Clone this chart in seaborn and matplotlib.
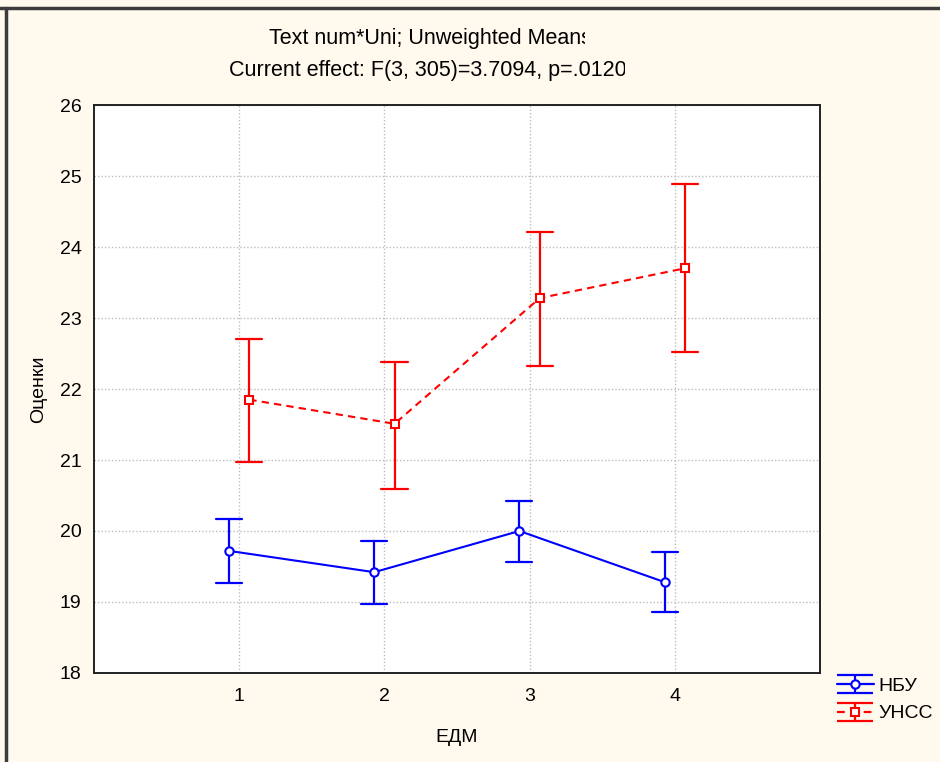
import numpy as np
import pandas as pd
import matplotlib
matplotlib.use("Agg")
import matplotlib.pyplot as plt
from matplotlib.path import Path
from matplotlib.lines import Line2D
from matplotlib.transforms import Bbox, TransformedBbox
import seaborn as sns

# Unweighted means with 95% confidence limits, by ЕДМ level and university
edm_levels = ["1", "2", "3", "4"]
groups = ["НБУ", "УНСС"]
nbu_mean = [19.72, 19.42, 20.00, 19.28]
nbu_low = [19.27, 18.97, 19.56, 18.86]
nbu_high = [20.17, 19.86, 20.42, 19.70]
unss_mean = [21.85, 21.51, 23.28, 23.70]
unss_low = [20.97, 20.59, 22.32, 22.52]
unss_high = [22.71, 22.38, 24.21, 24.89]

rows = []
for grp, lo, mid, hi in [("НБУ", nbu_low, nbu_mean, nbu_high),
                         ("УНСС", unss_low, unss_mean, unss_high)]:
    for lvl, a, b, c in zip(edm_levels, lo, mid, hi):
        for v in (a, b, c):
            rows.append({"ЕДМ": lvl, "Uni": grp, "Оценки": v})
df = pd.DataFrame(rows)

sns.set_theme(style="white")
plt.rcParams["font.family"] = ["Liberation Sans", "DejaVu Sans"]
plt.rcParams["text.color"] = "black"

bg = "#fff9ee"
colors = {"НБУ": "#0000ff", "УНСС": "#ff0000"}
dash = (0, (3.5, 2.5))

fig = plt.figure(figsize=(9.4, 7.62), dpi=100, facecolor=bg)
ax = fig.add_axes([0.1, 0.1168, 0.7723, 0.7454])
ax.set_facecolor("white")

sns.pointplot(
    data=df, x="ЕДМ", y="Оценки", hue="Uni", order=edm_levels,
    hue_order=groups, palette=colors, estimator="median",
    errorbar=("pi", 100), dodge=0.14, capsize=0.18,
    markers=["o", "s"], linestyles=["-", dash],
    linewidth=1.5, markersize=6, markerfacecolor="white",
    markeredgewidth=1.5, err_kws={"linewidth": 1.6},
    legend=False, ax=ax,
)
for ln in ax.lines:
    if ln.get_marker() not in (None, "None", ""):
        ln.set_zorder(4)

ax.set_xlim(-1, 4)
ax.set_ylim(18, 26)
ax.set_yticks(np.arange(18, 27, 1))
ax.set_xticks(range(len(edm_levels)))
ax.set_xticklabels(edm_levels)
ax.grid(True, color="#bdbdbd", linestyle=(0, (1, 1.5)), linewidth=1.0)
ax.set_axisbelow(True)
for s in ax.spines.values():
    s.set_color("#222222")
    s.set_linewidth(1.4)
ax.tick_params(axis="both", direction="in", length=4, width=1,
               labelsize=14, colors="#222222", labelcolor="black")
ax.tick_params(axis="x", pad=11)
ax.tick_params(axis="y", pad=9)
ax.set_xlabel("ЕДМ", fontsize=14, labelpad=17, color="black")
ax.set_ylabel("Оценки", fontsize=14, labelpad=9, color="black")

# Legend with errorbar-like handles: full-width caps joined by a short bar
bar_path = Path(
    [(0, -0.5), (0, 0.5), (-1, 0.5), (1, 0.5), (-1, -0.5), (1, -0.5)],
    [Path.MOVETO, Path.LINETO, Path.MOVETO, Path.LINETO, Path.MOVETO, Path.LINETO],
)
handles = []
for grp, mk, ls in [("НБУ", "o", "-"), ("УНСС", "s", dash)]:
    c = colors[grp]
    line = Line2D([], [], color=c, linestyle=ls, linewidth=1.6, marker=mk,
                  markersize=6, markerfacecolor="white", markeredgewidth=1.5)
    bar = Line2D([], [], linestyle="none", marker=bar_path, markersize=26,
                 markeredgecolor=c, markeredgewidth=1.6, markerfacecolor="none")
    handles.append((bar, line))
fig.legend(handles, groups, loc="upper left", bbox_to_anchor=(0.89, 0.111),
           frameon=False, fontsize=14, handlelength=1.9, handletextpad=0.25,
           labelspacing=0.5, borderaxespad=0, borderpad=0, labelcolor="black")

# Two-line heading, cut off at the right edge of its box
t1 = fig.text(430 / 940, 0.950, "Text num*Uni; Unweighted Means", ha="center",
              va="center", fontsize=15.5, color="black")
t2 = fig.text(428 / 940, 0.908, "Current effect: F(3, 305)=3.7094, p=.0120",
              ha="center", va="center", fontsize=15.5, color="black")
for t, right in [(t1, 585 / 940), (t2, 625 / 940)]:
    t.set_clip_box(TransformedBbox(Bbox([[0, 0], [right, 1]]), fig.transFigure))
    t.set_clip_on(True)

# Window frame
fig.add_artist(Line2D([0, 1], [0.9895, 0.9895], transform=fig.transFigure,
                      color="#3c3c3c", linewidth=2.5))
fig.add_artist(Line2D([0.0066, 0.0066], [0, 0.99], transform=fig.transFigure,
                      color="#3c3c3c", linewidth=2.5))

fig.savefig("out.png", dpi=100, facecolor=bg)
